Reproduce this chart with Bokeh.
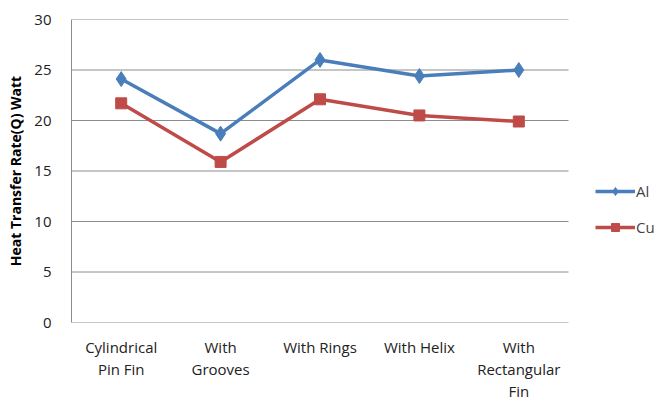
from bokeh.plotting import figure
from bokeh.models import Range1d, FixedTicker, Legend, LegendItem
from bokeh.embed import file_html
from bokeh.resources import INLINE

# Fin configurations and measured heat transfer rates (W)
categories = ["Cylindrical\nPin Fin", "With\nGrooves", "With Rings", "With Helix", "With\nRectangular\nFin"]
al_values = [24.1, 18.7, 26.0, 24.4, 25.0]
cu_values = [21.7, 15.9, 22.1, 20.5, 19.9]
y_ticks = [0, 5, 10, 15, 20, 25, 30]

n = len(categories)
xs = [i + 0.5 for i in range(n)]

# the frame runs to the right edge so the legend can sit beside the series;
# the category band (0..n) occupies 497 of its 583 px
frame_w = 583
x_max = n * frame_w / 497.0

p = figure(width=656, height=403, output_backend="svg", toolbar_location=None,
           x_range=Range1d(0, x_max), y_range=Range1d(0, 30),
           min_border_left=71, min_border_right=2, min_border_top=19, min_border_bottom=80)
p.outline_line_color = None
p.background_fill_color = "white"
p.border_fill_color = "white"

grid_col = "#8c8c8c"
p.xgrid.grid_line_color = None
p.ygrid.grid_line_color = None

# horizontal gridlines only across the category band
p.segment(x0=[0] * len(y_ticks), x1=[n] * len(y_ticks), y0=y_ticks, y1=y_ticks,
          line_color=grid_col, line_width=1)

font = "Open Sans"

p.yaxis.ticker = FixedTicker(ticks=y_ticks)
p.yaxis.axis_line_color = grid_col
p.yaxis.major_tick_line_color = None
p.yaxis.minor_tick_line_color = None
p.yaxis.major_label_text_font = font
p.yaxis.major_label_text_font_size = "15px"
p.yaxis.major_label_text_color = "#222222"
p.yaxis.major_label_standoff = 14
p.yaxis.axis_label = "Heat Transfer Rate(Q) Watt"
p.yaxis.axis_label_text_font = font
p.yaxis.axis_label_text_font_style = "bold"
p.yaxis.axis_label_text_font_size = "14px"
p.yaxis.axis_label_text_color = "#000000"
p.yaxis.axis_label_standoff = 6

p.xaxis.ticker = FixedTicker(ticks=xs)
p.xaxis.major_label_overrides = {x: c for x, c in zip(xs, categories)}
p.xaxis.axis_line_color = None
p.xaxis.major_tick_line_color = None
p.xaxis.minor_tick_line_color = None
p.xaxis.major_label_text_font = font
p.xaxis.major_label_text_font_size = "15px"
p.xaxis.major_label_text_line_height = 1.1
p.xaxis.major_label_text_color = "#222222"
p.xaxis.major_label_standoff = 8

blue = "#4a7ebb"
red = "#be4b48"

l1 = p.line(xs, al_values, line_color=blue, line_width=3.5)
m1 = p.scatter(xs, al_values, marker="diamond", size=15, fill_color=blue, line_color=blue)
l2 = p.line(xs, cu_values, line_color=red, line_width=3.5)
m2 = p.scatter(xs, cu_values, marker="square", size=11, fill_color=red, line_color=red)

legend = Legend(items=[LegendItem(label="Al", renderers=[l1, m1]),
                       LegendItem(label="Cu", renderers=[l2, m2])],
                location=(524, 85), orientation="vertical",
                glyph_width=40, glyph_height=20, spacing=16, label_standoff=1,
                label_text_font=font, label_text_font_size="15px",
                border_line_color=None, background_fill_alpha=0, padding=0, margin=0)
p.add_layout(legend, "center")

open("out.html", "w").write(file_html(p, INLINE))
